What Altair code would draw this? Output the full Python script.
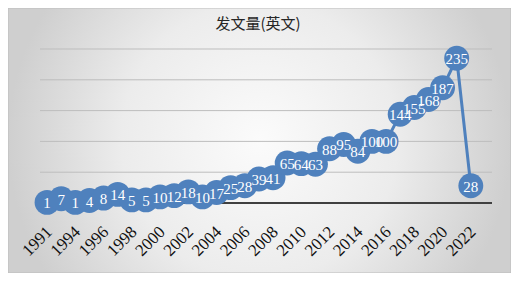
import altair as alt
import pandas as pd

title_text = "发文量(英文)"
years = ["1991", "1993", "1994", "1995", "1996", "1997", "1998", "1999", "2000",
         "2001", "2002", "2003", "2004", "2005", "2006", "2007", "2008", "2009",
         "2010", "2011", "2012", "2013", "2014", "2015", "2016", "2017", "2018",
         "2019", "2020", "2021", "2022"]
counts = [1, 7, 1, 4, 8, 14, 5, 5, 10, 12, 18, 10, 17, 25, 28, 39, 41, 65, 64, 63,
          88, 95, 84, 100, 100, 144, 155, 168, 187, 235, 28]
label_years = ["1991", "1994", "1996", "1998", "2000", "2002", "2004", "2006",
               "2008", "2010", "2012", "2014", "2016", "2018", "2020", "2022"]
grid_values = [50, 100, 150, 200, 250]
x_domain = years + ["2023"]

df = pd.DataFrame({"year": years, "count": counts})
grid_df = pd.DataFrame({"g": grid_values})

W, H = 452, 154
PAD = {"left": 32, "top": 41, "right": 19, "bottom": 70}
BLUE = "#4F81BD"

bg = alt.Chart(alt.Data(values=[{}])).mark_rect(
    fill={"gradient": "radial",
          "stops": [{"offset": 0, "color": "#fbfbfb"},
                    {"offset": 0.55, "color": "#ececec"},
                    {"offset": 1, "color": "#cfcfcf"}]},
    stroke="#bdbdbd", strokeWidth=1
).encode(
    x=alt.value(-PAD["left"]), x2=alt.value(W + PAD["right"]),
    y=alt.value(-PAD["top"]), y2=alt.value(H + PAD["bottom"])
)

title = alt.Chart(alt.Data(values=[{"t": title_text}])).mark_text(
    font="Noto Sans CJK SC", fontSize=15, color="#262626", align="center",
    baseline="middle"
).encode(text="t:N", x=alt.value(218), y=alt.value(-25))

yscale = alt.Scale(domain=[0, 250], nice=False)

x = alt.X("year:O",
          scale=alt.Scale(type="point", domain=x_domain, padding=0.5),
          axis=alt.Axis(title=None, values=label_years, labelAngle=-45,
                        labelAlign="right", labelBaseline="middle",
                        labelFont="Liberation Serif", labelFontSize=17,
                        labelColor="#111111", labelPadding=26, labelOffset=2,
                        ticks=False, domain=False, grid=False, zindex=1))
y = alt.Y("count:Q", scale=yscale, axis=None)

grid = alt.Chart(grid_df).mark_rule(color="#bdbdbd", strokeWidth=1).encode(
    y=alt.Y("g:Q", scale=yscale, axis=None))
baseline = alt.Chart(alt.Data(values=[{"z": 0}])).mark_rule(
    color="#404040", strokeWidth=2).encode(y=alt.Y("z:Q", scale=yscale, axis=None))

base = alt.Chart(df).encode(x=x, y=y)
line = base.mark_line(color=BLUE, strokeWidth=3)
pts = base.mark_circle(size=620, color=BLUE, opacity=1)
txt = base.mark_text(font="Liberation Serif", fontSize=15, color="white",
                     baseline="middle", dy=1).encode(text="count:Q")

chart = alt.layer(bg, title, grid, baseline, line, pts, txt).properties(
    width=W, height=H,
    autosize=alt.AutoSizeParams(type="none"),
    padding=PAD,
    background="#d9d9d9"
).configure_view(stroke=None)

chart.save("out.html", embed_options={"renderer": "svg", "actions": False})
